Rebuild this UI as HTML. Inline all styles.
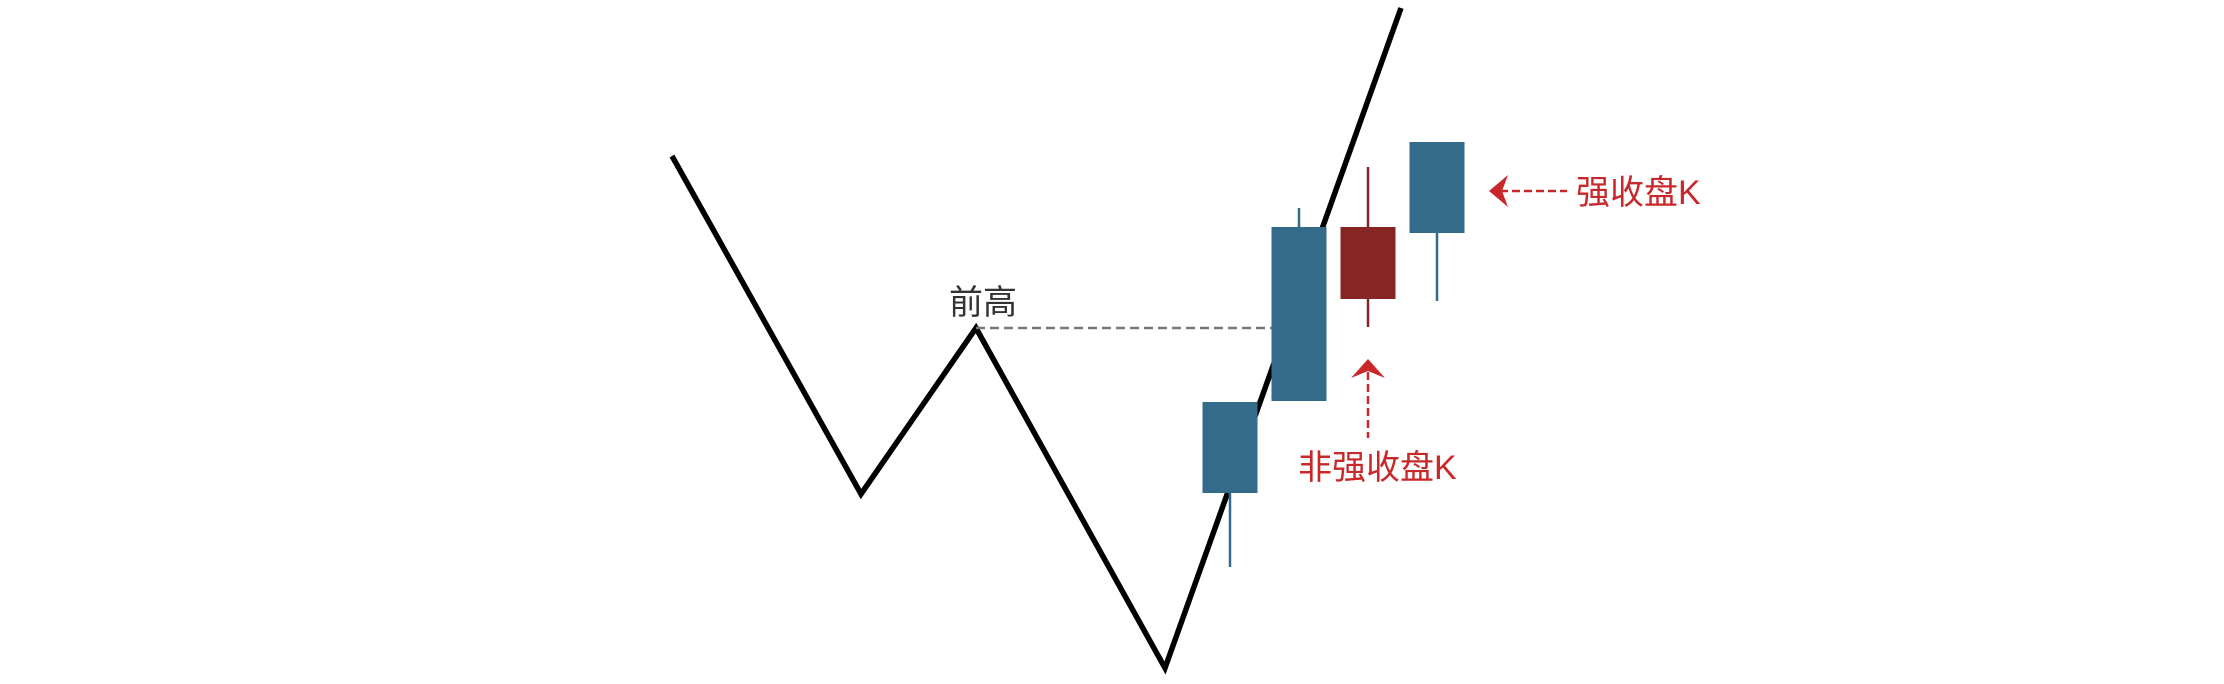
<!DOCTYPE html>
<html><head><meta charset="utf-8">
<style>
html,body{margin:0;padding:0;background:#fff;}
svg{display:block;}
text{font-family:"Liberation Sans","Noto Sans CJK SC",sans-serif;}
</style></head>
<body>
<svg id="chart" width="2224" height="684" viewBox="0 0 2224 684" xmlns="http://www.w3.org/2000/svg">
  <g id="trend"></g>
  <line x1="976" y1="328" x2="1285" y2="328" stroke="#777" stroke-width="2.5" stroke-dasharray="9,5"/>
  <text x="949" y="314" font-size="34" fill="#333">前高</text>
  <g id="candles"></g>
  <g>
    <line x1="1500" y1="191" x2="1567" y2="191" stroke="#c8282a" stroke-width="2.5" stroke-dasharray="8,4"/>
    <path d="M1489,191 L1508,175 L1502,191 L1508,207 Z" fill="#c8282a"/>
    <text x="1576" y="204" font-size="34" fill="#c8282a">强收盘K</text>
  </g>
  <g>
    <line x1="1368" y1="372" x2="1368" y2="438" stroke="#c8282a" stroke-width="2.5" stroke-dasharray="8,4"/>
    <path d="M1368,359 L1385,378 L1368,371 L1351,378 Z" fill="#c8282a"/>
    <text x="1298" y="479" font-size="34" fill="#c8282a">非强收盘K</text>
  </g>
</svg>
<script>
// zigzag nodes (time units, price units)
const zigTimes = [672, 861, 976, 1165, 1401];
const zigPrices = [528, 190, 356, 16, 676];
// candles
const candleIndex = [0, 1, 2, 3];
const opens  = [191, 283, 457, 451];
const closes = [282, 457, 385, 542];
const highs  = [282, 476, 517, 542];
const lows   = [117, 283, 357, 383];

const NS = 'http://www.w3.org/2000/svg';
function yScale(p){ return 684 - p; }
function tScale(t){ return t; }
function xScale(i){ return 1230 + i * 69; }
const bodyW = 55;

const trend = document.getElementById('trend');
const pl = document.createElementNS(NS, 'polyline');


pl.setAttribute('points', zigTimes.map((t,i)=>tScale(t)+','+yScale(zigPrices[i])).join(' '));
pl.setAttribute('fill', 'none');
pl.setAttribute('stroke', '#000');
pl.setAttribute('stroke-width', '5.5');
pl.setAttribute('stroke-linejoin', 'miter');
trend.appendChild(pl);

const cg = document.getElementById('candles');
candleIndex.forEach((idx, i) => {
  const up = closes[i] >= opens[i];
  const col = up ? '#346a8a' : '#862523';
  const cx = xScale(idx);
  const wick = document.createElementNS(NS, 'line');
  
  
  wick.setAttribute('x1', cx); wick.setAttribute('x2', cx);
  wick.setAttribute('y1', yScale(highs[i])); wick.setAttribute('y2', yScale(lows[i]));
  wick.setAttribute('stroke', col); wick.setAttribute('stroke-width', '2.5');
  cg.appendChild(wick);
  const body = document.createElementNS(NS, 'rect');
  
  
  const top = yScale(Math.max(opens[i], closes[i]));
  const bot = yScale(Math.min(opens[i], closes[i]));
  body.setAttribute('x', cx - bodyW/2);
  body.setAttribute('y', top);
  body.setAttribute('width', bodyW);
  body.setAttribute('height', bot - top);
  body.setAttribute('fill', col);
  cg.appendChild(body);
});
</script>
</body></html>
